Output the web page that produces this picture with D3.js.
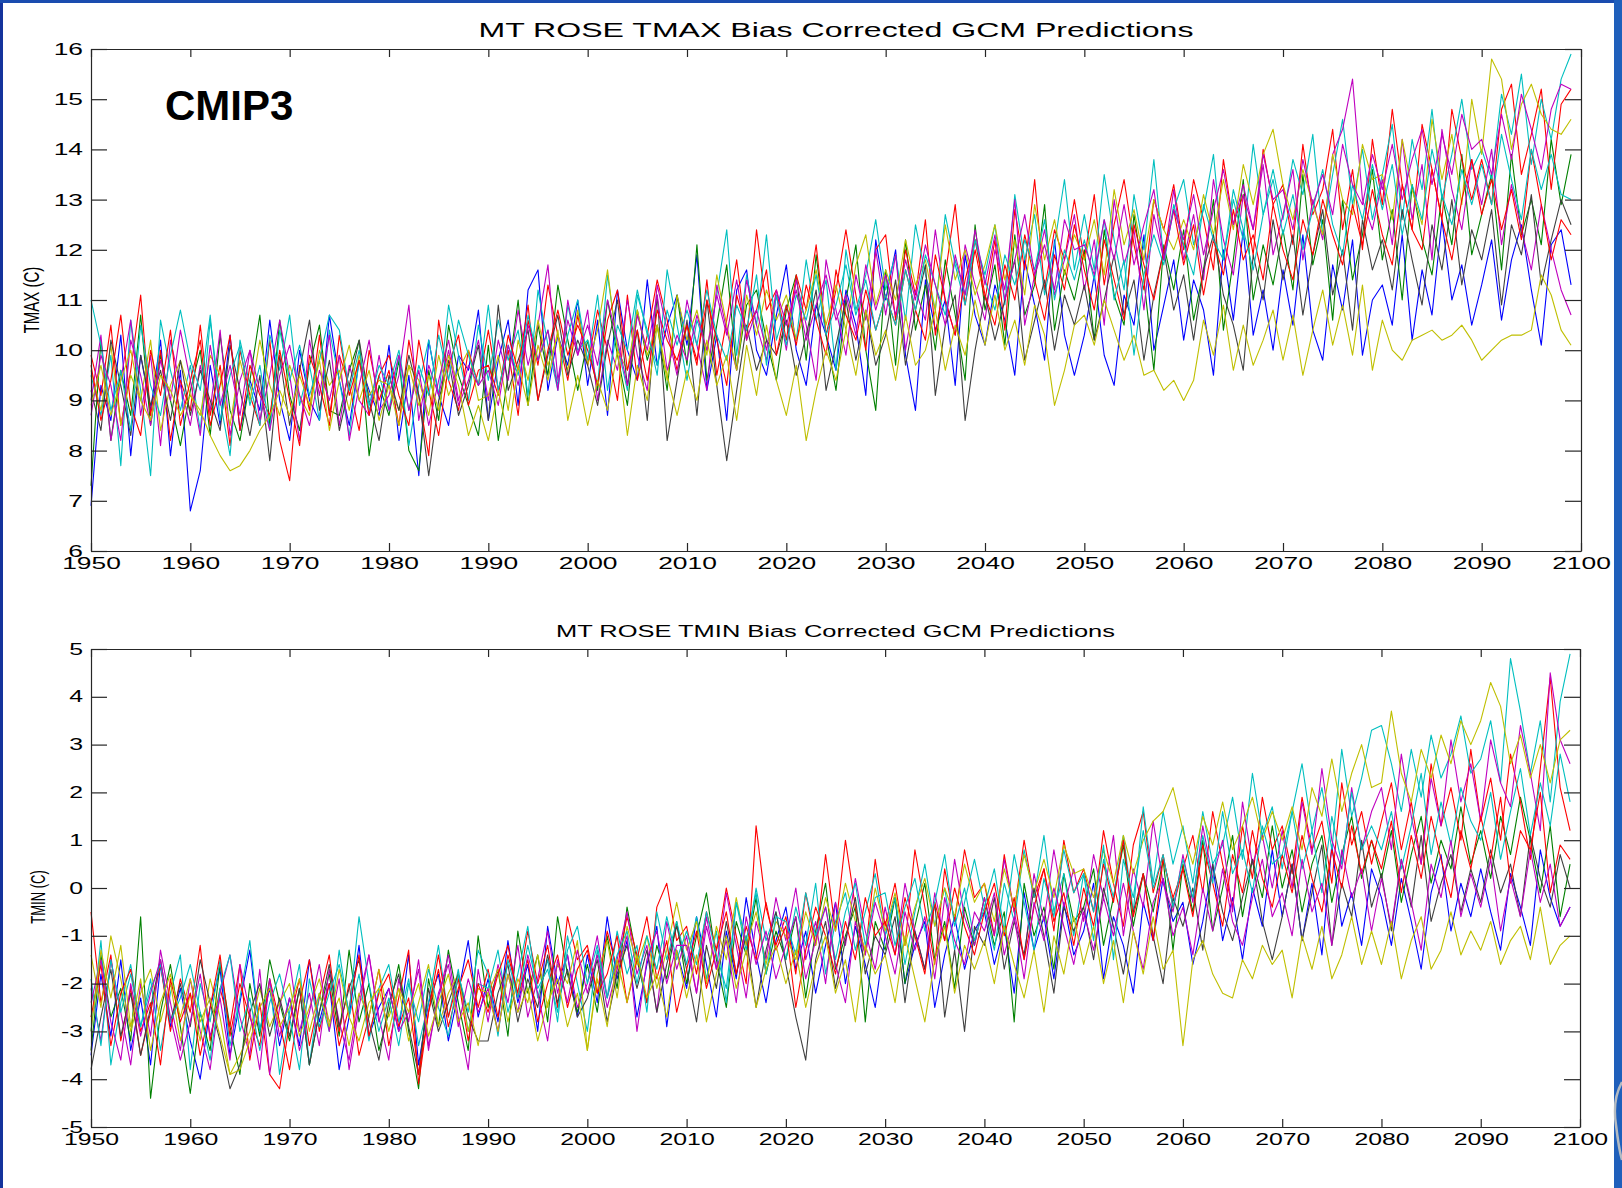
<!DOCTYPE html>
<html><head><meta charset="utf-8">
<script src="https://cdn.jsdelivr.net/npm/d3@7"></script>
<style>
body{margin:0;background:#fff;overflow:hidden;}
svg{display:block;}
text{font-family:"Liberation Sans",Arial,Helvetica,sans-serif;}
</style>
</head><body>
<svg id="chart" width="1622" height="1188"></svg>
<script>
// ---------------- DATA ----------------
const years = d3.range(1950, 2100);
const xTicks = [1950,1960,1970,1980,1990,2000,2010,2020,2030,2040,2050,2060,2070,2080,2090,2100];
const tmaxTicks = [6,7,8,9,10,11,12,13,14,15,16];
const tminTicks = [-5,-4,-3,-2,-1,0,1,2,3,4,5];
const seriesColors = ["#0000ff","#008000","#ff0000","#00bfbf","#bf00bf","#bfbf00","#404040","#ff0000","#00bfbf","#bf00bf","#bfbf00"];

const tmaxBlue = [
6.9,9.3,8.6,10.3,7.9,9.9,8.8,10.2,7.9,9.6,
6.8,7.6,9.7,8.5,10.3,8.4,9.4,8.8,10.6,9.0,
8.2,10.0,9.0,8.6,10.7,9.4,8.5,9.8,9.2,8.7,
10.1,8.2,9.5,7.5,10.2,9.1,8.5,9.9,9.6,10.8,
8.6,9.8,10.6,8.9,11.2,11.6,9.2,10.3,9.7,11.0,
9.3,10.6,8.7,11.2,10.0,9.4,11.4,9.7,10.5,11.1,
10.1,11.9,9.2,10.3,8.6,11.2,11.6,10.0,9.5,10.7,
11.7,10.0,9.3,10.9,10.3,9.6,11.2,10.5,9.1,12.2,
11.0,12.0,9.9,8.8,11.4,10.4,11.0,9.3,11.9,10.7,
10.1,11.3,10.6,9.5,11.8,10.9,9.8,12.2,10.3,9.5,
10.3,11.5,9.9,9.3,11.1,10.5,12.3,10.0,10.9,11.8,
10.2,11.4,10.8,9.5,12.0,10.6,12.4,10.3,11.2,10.0,
11.6,10.5,12.3,10.4,9.8,11.7,10.8,12.2,9.9,11.0,
11.3,10.5,12.3,10.2,11.6,10.7,12.6,11.0,11.7,10.5,
11.3,12.2,10.6,11.8,12.5,11.2,10.1,12.1,12.4,11.3];
const tmaxGreen = [
7.3,10.2,8.2,9.6,8.7,10.7,8.5,9.9,9.0,8.1,
9.2,10.0,8.3,10.3,8.8,8.2,9.4,10.7,8.5,10.6,
9.1,8.4,9.7,10.5,8.8,8.7,9.6,10.2,7.9,9.3,
8.7,9.8,8.0,7.6,9.6,8.6,10.5,9.5,8.9,8.3,
10.1,8.2,9.5,11.0,8.9,10.5,9.5,11.3,10.2,9.2,
10.2,9.2,11.0,9.9,8.9,10.8,9.8,10.5,9.2,11.1,
9.7,12.1,9.4,10.5,11.7,9.6,10.9,11.2,10.2,9.4,
10.8,11.5,9.8,11.9,10.3,9.2,11.0,12.1,10.0,8.8,
11.6,9.7,12.2,10.4,11.3,10.0,11.8,10.7,9.4,12.5,
10.8,11.7,10.1,12.3,10.7,11.3,12.9,10.4,11.6,11.0,
12.0,10.2,12.4,11.1,10.5,12.7,11.4,9.6,12.1,11.2,
12.4,10.6,11.6,13.0,10.4,11.8,13.4,11.0,12.1,11.3,
12.4,11.2,13.5,11.7,12.6,10.6,13.0,11.4,12.3,13.6,
11.8,12.8,11.0,13.3,12.2,11.5,13.1,12.1,13.9,11.9,
12.7,13.5,11.6,13.9,12.3,13.0,12.1,14.2,12.9,13.9];
const tmaxRed = [
9.9,9.1,10.5,8.5,9.6,11.1,8.7,10.0,8.2,9.4,
8.8,10.5,8.7,9.7,8.1,10.0,9.1,8.5,10.2,8.2,
7.4,9.7,8.8,10.3,8.7,9.9,9.3,8.4,10.0,9.0,
9.6,8.5,10.2,9.1,7.9,10.6,9.4,8.8,10.0,9.3,
10.4,9.2,10.0,8.7,10.6,9.7,11.3,10.3,9.4,10.7,
9.7,10.8,10.0,9.0,11.1,9.4,10.3,11.4,10.6,9.6,
10.5,9.7,11.4,9.5,10.6,11.8,10.2,12.4,10.8,11.2,
10.2,11.5,10.8,12.1,10.3,11.2,12.4,11.1,10.0,12.0,
12.3,10.6,12.0,11.1,12.6,10.3,11.5,12.9,10.9,12.0,
11.0,12.2,10.4,12.8,11.6,13.4,11.2,12.4,11.8,13.0,
11.8,13.1,11.3,12.5,13.4,12.1,11.2,13.0,12.4,13.3,
12.0,13.4,12.6,11.6,13.8,12.5,13.1,11.9,14.0,12.9,
13.3,12.1,14.1,12.7,13.2,14.4,12.4,13.6,12.0,14.2,
12.9,14.8,13.3,12.4,14.5,13.6,12.6,14.8,13.8,13.0,
13.8,12.9,14.8,15.3,13.5,14.3,15.2,13.2,14.9,15.2];
const tmaxCyan = [
9.5,8.7,9.9,7.7,10.6,9.2,7.5,10.6,9.6,8.8,
9.7,8.4,10.6,9.0,7.9,10.2,9.3,8.5,10.3,9.6,
10.7,8.9,9.7,8.6,10.4,9.4,8.3,9.8,8.8,9.5,
8.8,9.9,8.1,9.3,10.2,9.1,10.9,9.9,9.0,10.5,
9.4,10.6,9.8,10.4,9.1,11.2,10.1,9.2,10.9,10.0,
10.2,9.3,11.5,10.1,9.2,11.1,10.4,9.5,11.6,10.5,
9.4,10.6,10.0,11.1,12.4,9.9,11.5,10.5,12.3,10.2,
10.9,10.2,11.8,10.6,11.4,9.6,12.0,10.8,11.5,12.6,
11.2,11.9,10.6,12.5,11.5,10.8,12.7,11.7,10.9,12.2,
11.5,12.5,10.9,13.1,11.8,12.7,11.1,12.1,13.4,11.6,
12.7,11.6,13.5,12.2,11.2,13.1,12.0,13.8,11.8,12.8,
13.4,12.1,12.8,13.9,11.8,13.0,12.2,14.1,12.7,13.6,
12.6,13.8,13.1,14.3,12.3,13.5,14.6,12.9,14.0,12.6,
13.5,14.5,12.6,14.2,13.2,14.8,13.0,13.9,15.0,13.6,
14.0,13.4,15.1,14.3,15.5,13.7,15.0,14.2,15.4,15.9];
const tmaxMagenta = [
9.0,10.3,8.2,9.4,10.6,8.7,9.9,8.1,10.2,9.3,
8.5,9.7,8.8,10.4,8.3,9.4,10.0,8.6,9.5,10.6,
9.5,8.2,10.2,9.1,10.3,8.5,9.7,9.0,8.7,9.9,
8.8,9.5,10.9,8.6,9.7,9.1,10.0,8.9,9.4,10.2,
9.0,10.2,9.4,10.8,9.7,10.5,11.7,9.4,10.6,9.9,
10.8,9.0,10.2,9.6,11.0,9.9,9.2,11.3,10.4,9.5,
11.0,10.1,9.2,11.3,10.4,9.6,11.4,10.5,9.8,11.1,
10.0,11.4,10.5,9.4,11.8,10.8,9.9,11.5,10.6,12.0,
10.7,11.9,10.0,11.2,10.6,12.4,11.0,10.3,12.1,11.3,
10.6,12.0,11.2,13.0,10.5,11.5,12.4,11.1,11.8,12.7,
11.2,12.2,10.5,13.0,11.7,12.4,10.8,12.7,11.8,13.2,
11.8,12.7,11.4,13.4,12.2,11.5,13.1,12.4,13.7,11.9,
12.7,13.6,11.8,13.0,12.2,13.9,14.4,15.4,13.0,12.4,
13.4,12.1,14.2,12.6,13.7,11.8,14.4,13.2,12.4,13.8,
12.9,14.0,12.1,13.3,12.4,11.6,12.9,12.0,11.2,10.7];
const tmaxYellow = [
9.6,8.8,10.1,8.5,9.5,9.0,10.2,8.4,9.3,9.8,
9.1,8.7,9.9,9.5,8.5,9.8,9.0,10.2,9.3,8.7,
9.7,9.1,8.7,10.0,9.3,9.6,8.8,9.9,9.1,9.4,
9.3,8.8,9.7,9.4,8.7,9.9,9.1,9.6,10.0,9.0,
9.1,9.9,8.8,10.2,9.4,10.6,9.7,10.3,9.6,10.8,
9.7,10.4,11.6,10.0,9.6,10.8,9.9,10.5,9.4,11.1,
10.2,10.8,9.9,11.5,10.5,9.6,11.1,10.3,11.2,10.6,
11.1,10.2,10.8,11.6,10.5,11.3,10.4,11.7,12.3,10.9,
11.6,11.0,12.2,11.3,11.8,10.8,12.5,11.4,12.0,11.1,
11.7,12.5,11.4,12.2,11.1,12.9,11.8,12.6,11.5,12.3,
11.8,12.6,11.5,13.2,12.1,12.8,11.8,13.0,12.4,12.0,
12.6,12.0,13.1,12.3,13.4,12.4,13.7,12.9,13.9,14.4,
13.3,12.6,13.6,12.9,12.3,13.9,13.0,12.7,14.1,13.4,
13.5,12.6,14.2,13.2,12.5,14.6,13.4,14.3,12.9,15.0,
13.9,15.8,15.4,14.0,14.9,15.3,14.7,14.4,14.3,14.6];
const tmaxGray = [
9.2,8.4,10.2,9.3,8.3,9.9,8.9,9.6,8.6,9.8,
8.7,9.6,9.0,8.4,10.1,9.2,8.3,9.5,7.8,9.9,
8.5,9.6,10.6,8.8,9.8,8.4,9.3,10.2,9.0,8.2,
9.5,8.8,9.9,9.1,7.5,9.0,9.8,8.7,9.3,10.1,
8.6,10.9,9.2,9.8,10.4,9.0,9.9,10.7,9.5,10.2,
9.7,8.9,10.1,11.0,9.3,10.4,8.6,11.1,8.2,9.4,
10.6,8.7,11.0,9.3,7.8,9.2,10.5,9.6,10.2,9.9,
10.6,9.5,10.3,11.2,9.2,10.1,11.0,9.8,10.8,9.7,
10.3,11.4,9.7,10.8,11.7,9.1,10.5,11.1,8.6,10.0,
11.1,10.2,11.0,11.8,9.8,10.6,11.4,10.0,11.1,10.5,
11.3,10.2,11.0,11.9,10.7,11.4,9.8,11.1,12.0,10.8,
11.5,10.2,11.6,12.3,11.1,10.5,9.6,11.9,11.0,12.6,
11.4,12.3,10.7,11.9,12.8,11.1,12.0,10.4,12.6,11.6,
12.2,11.2,12.8,11.8,10.9,12.5,11.6,13.0,11.3,12.4,
11.8,12.8,10.9,12.5,11.9,13.1,11.3,12.2,13.0,12.5];
const tmaxRed2 = [
9.7,8.6,9.4,10.7,8.9,8.3,10.0,9.1,10.4,8.5,
9.4,10.2,8.5,9.3,10.3,8.4,9.7,9.1,8.7,10.0,
9.0,8.1,9.9,9.3,8.5,10.3,9.1,9.8,8.7,9.5,
9.9,9.1,8.5,10.2,9.2,8.3,9.7,10.3,8.9,9.6,
9.7,9.1,10.3,9.6,10.9,9.0,10.0,10.8,9.9,10.5,
10.0,9.3,10.6,11.2,9.6,10.4,9.4,10.8,10.2,9.8,
10.5,9.8,11.0,10.2,9.3,11.1,10.4,10.8,11.6,9.9,
10.9,10.1,11.3,10.6,9.9,11.6,10.7,10.2,11.2,10.4,
11.1,10.5,11.6,10.8,10.2,11.9,11.0,10.3,11.4,12.2,
11.1,10.5,11.7,11.0,12.3,11.4,10.6,11.9,11.2,12.5,
11.6,10.8,12.2,11.4,10.6,12.5,11.7,11.0,12.0,12.8,
11.7,12.5,11.1,12.2,11.5,12.8,11.8,12.3,11.4,12.9,
12.0,11.4,12.6,11.9,13.0,12.3,11.7,12.9,12.1,13.2,
12.3,11.7,13.3,12.4,12.0,13.6,12.6,11.8,13.0,13.8,
12.7,13.4,12.4,13.2,12.2,14.0,12.9,11.8,12.6,12.3];
const tmaxCyan2 = [
11.0,10.1,8.8,9.6,8.4,10.5,9.3,8.7,9.9,10.8,
9.8,9.2,10.7,8.6,9.5,10.1,8.9,9.7,8.4,10.4,
9.4,10.1,9.1,9.8,10.7,10.4,9.2,10.0,8.9,9.7,
9.3,10.0,8.8,9.7,9.1,10.3,9.4,10.6,9.9,9.3,
10.9,9.2,10.1,9.5,10.7,9.8,10.4,9.3,10.3,11.0,
9.8,11.1,9.2,10.5,10.0,11.2,10.3,9.7,10.8,10.1,
10.8,10.1,11.2,10.3,9.8,10.9,10.4,11.5,9.7,11.1,
10.1,11.1,10.6,11.5,10.3,10.9,11.7,10.7,11.4,10.4,
11.1,10.5,11.6,10.8,11.9,11.3,10.7,11.8,11.1,12.2,
11.4,10.8,11.9,11.3,12.2,11.6,12.6,11.0,12.0,11.4,
12.2,11.4,12.6,11.0,11.8,9.9,11.5,12.3,11.7,12.9,
12.1,11.5,12.9,12.2,11.8,13.2,12.4,11.6,12.7,13.4,
12.3,13.1,12.0,12.8,13.6,12.5,11.9,13.3,12.6,13.7,
12.8,13.7,12.3,13.3,12.6,14.0,13.1,12.5,13.6,12.9,
13.7,12.9,14.3,13.4,12.6,14.0,13.2,13.9,13.1,13.0];
const tmaxMagenta2 = [
8.7,9.9,9.3,8.2,10.2,9.5,8.5,9.8,9.0,10.4,
9.4,8.3,10.1,8.9,9.7,8.7,10.0,9.2,8.4,9.5,
10.1,9.1,8.5,9.6,9.0,9.9,8.2,9.3,10.2,8.8,
9.1,9.9,8.8,9.6,8.5,9.4,10.2,9.0,9.7,9.3,
9.6,8.9,10.1,9.3,10.5,9.8,10.4,9.2,11.0,9.9,
10.5,9.7,11.0,10.2,9.3,10.7,10.0,11.1,9.6,10.3,
9.8,10.7,10.0,11.1,10.3,11.4,10.2,10.8,10.0,11.2,
10.5,11.2,10.2,10.9,11.5,10.6,11.1,10.3,11.7,10.8,
11.5,10.7,11.8,11.0,12.1,11.3,10.5,11.9,11.1,12.4,
11.3,12.3,11.0,11.8,12.7,11.5,12.1,11.2,12.6,12.0,
12.1,11.5,12.6,11.8,12.9,11.7,12.5,13.2,11.8,12.8,
12.2,13.1,11.9,12.8,13.6,12.5,13.3,12.4,13.9,13.0,
13.2,12.4,13.8,12.9,13.5,12.7,14.1,13.3,12.9,13.9,
13.2,14.1,13.0,13.8,14.4,13.3,14.3,13.5,14.7,14.0,
14.2,13.5,14.7,13.8,15.1,14.4,13.6,14.8,15.3,15.2];
const tmaxYellow2 = [
8.9,9.7,8.7,9.4,10.0,9.0,8.6,9.5,9.2,8.7,
9.1,8.8,8.3,7.9,7.6,7.7,8.0,8.4,8.7,9.2,
8.7,9.5,8.9,9.8,8.4,9.4,10.1,9.0,9.6,8.6,
9.3,8.5,9.7,8.9,9.5,8.8,9.9,9.3,8.3,8.9,
8.2,9.2,8.3,9.7,8.9,10.1,9.4,10.4,8.6,9.5,
8.5,9.4,8.8,10.0,8.3,9.7,9.0,10.5,9.5,8.7,
9.6,9.0,10.2,9.3,9.9,8.6,10.1,9.1,10.5,9.4,
8.7,9.7,8.2,9.2,10.0,9.4,10.4,9.5,10.8,9.9,
10.4,9.4,10.7,9.7,10.0,10.8,9.6,10.5,9.9,11.0,
10.1,11.1,10.0,10.6,9.7,10.9,10.3,8.9,9.6,10.5,
10.7,10.1,11.0,10.4,9.8,10.3,9.5,9.6,9.2,9.4,
9.0,9.4,10.6,9.9,10.9,9.6,10.5,9.7,10.2,10.8,
9.8,10.7,9.5,10.4,11.2,10.1,10.9,9.9,11.3,9.6,
10.6,10.0,9.8,10.2,10.3,10.4,10.2,10.3,10.5,10.2,
9.8,10.0,10.2,10.3,10.3,10.4,11.5,11.1,10.4,10.1];

const tminBlue = [
-3.5,-1.8,-3.1,-1.5,-3.4,-2.3,-3.7,-1.6,-2.9,-2.1,
-3.2,-4.0,-2.5,-1.7,-3.5,-2.4,-1.3,-3.0,-2.1,-3.3,
-2.3,-3.3,-1.5,-2.8,-2.0,-3.8,-2.7,-1.2,-3.1,-2.5,
-2.1,-3.0,-1.4,-3.7,-2.4,-1.8,-3.2,-2.2,-1.1,-2.7,
-1.9,-2.8,-1.1,-2.4,-1.6,-3.0,-0.8,-2.0,-1.4,-2.7,
-1.4,-2.4,-0.6,-1.9,-1.1,-2.7,-1.6,-0.8,-2.9,-1.3,
-2.1,-0.6,-1.6,-2.7,-0.9,-1.9,-0.2,-1.4,-2.4,-1.1,
-0.4,-1.7,-0.9,-2.2,-1.2,-0.3,-2.0,-0.8,-1.6,-2.5,
-1.0,-0.2,-2.0,-1.2,-0.7,-2.5,-1.4,-0.6,-1.7,-0.9,
-0.5,-1.6,-0.8,-2.2,-0.1,-1.3,-0.6,-1.9,-0.3,-1.4,
-0.9,0.1,-1.9,-0.6,-1.2,-2.2,-0.3,-1.1,0.2,-0.7,
-0.3,-1.6,-0.7,0.5,-1.1,-0.2,-1.5,0.0,-0.8,0.8,
-0.6,0.5,-1.1,0.1,-1.4,0.9,-0.8,-0.1,-1.2,0.4,
-0.2,-1.2,0.2,-0.7,-1.7,-0.1,0.7,-0.9,0.1,-0.6,
0.4,-0.5,-1.3,0.3,-0.4,-1.2,0.8,-0.2,-0.8,-0.4];
const tminGreen = [
-3.4,-1.4,-2.7,-2.1,-3.2,-0.6,-4.4,-2.6,-1.6,-2.9,
-4.3,-2.6,-3.4,-1.6,-2.9,-3.9,-2.0,-3.1,-1.5,-2.4,
-3.2,-2.1,-3.7,-2.6,-1.8,-3.1,-1.3,-2.8,-2.0,-3.4,
-2.6,-1.6,-3.0,-4.2,-1.9,-2.9,-1.3,-2.4,-3.4,-1.0,
-2.5,-1.7,-3.1,-0.9,-2.2,-1.4,-2.8,-0.6,-1.8,-2.6,
-1.6,-2.6,-1.0,-2.1,-0.4,-1.5,-2.4,-1.2,-1.9,-0.7,
-2.0,-1.0,-0.1,-1.5,-2.5,-0.7,-1.4,-0.2,-1.8,-0.9,
-1.5,-0.6,-2.3,-0.9,0.1,-1.7,-1.0,-0.4,-2.8,-0.7,
-1.3,-0.2,-2.0,-0.8,0.1,-1.5,-0.7,-2.1,-0.4,-1.2,
-0.2,-1.2,-0.5,-2.8,0.1,-1.0,-0.4,-1.7,0.3,-0.7,
-0.4,0.4,-1.2,-0.2,0.9,-0.8,0.3,-0.5,0.6,-1.3,
0.5,-0.5,1.0,-0.9,0.0,1.1,-0.6,0.6,-0.2,1.3,
0.0,0.8,-0.5,0.5,1.1,-0.3,0.7,1.5,0.2,1.0,
0.2,1.2,-0.3,0.7,1.5,0.1,1.0,0.4,1.7,0.5,
1.2,0.2,1.5,0.7,1.9,1.0,-0.1,1.3,-0.6,0.5];
const tminRed = [
-0.5,-2.4,-1.4,-3.2,-2.1,-3.5,-2.6,-1.6,-3.0,-1.9,
-2.6,-1.2,-3.2,-2.1,-2.9,-1.6,-3.6,-2.4,-3.9,-4.2,
-2.8,-1.9,-3.3,-2.3,-1.4,-3.0,-2.0,-3.5,-2.7,-1.7,
-3.3,-2.3,-1.3,-4.1,-2.6,-1.7,-2.9,-2.1,-1.5,-2.5,
-1.7,-2.7,-1.4,-2.2,-0.9,-2.0,-1.2,-2.5,-0.6,-1.5,
-1.2,-2.2,-0.9,-1.7,-0.6,-1.4,-2.4,-0.4,0.1,-1.1,
-0.8,-1.8,-0.5,-1.3,0.0,-1.0,-2.0,1.3,-0.4,-1.2,
-0.6,-1.8,-0.1,-1.2,0.7,-0.9,1.0,-0.4,-1.4,0.6,
-0.8,0.1,-1.2,0.8,-0.4,-1.6,0.4,-0.7,0.8,-0.2,
0.1,-1.0,0.7,-0.5,1.0,-0.2,0.4,-0.9,1.0,-0.1,
0.4,-0.5,1.2,0.1,-0.8,0.9,1.6,-0.1,0.7,-0.4,
0.4,1.1,-0.1,1.6,0.5,-0.4,1.3,0.2,1.9,0.8,
1.3,0.3,1.9,0.8,1.4,0.1,2.2,0.9,1.6,0.5,
1.4,2.2,0.8,1.8,0.5,2.6,1.3,2.1,1.0,2.9,
1.4,2.3,1.0,2.8,1.8,0.6,2.5,4.4,2.1,1.2];
const tminCyan = [
-3.0,-1.1,-3.7,-2.4,-1.6,-2.9,-1.9,-3.4,-2.2,-1.4,
-3.8,-2.0,-2.8,-1.5,-3.3,-2.3,-1.1,-3.0,-1.9,-3.9,
-2.6,-1.6,-3.7,-2.2,-3.0,-1.3,-2.7,-1.8,-3.2,-2.1,
-1.6,-2.8,-1.9,-3.3,-2.4,-1.2,-2.7,-1.7,-3.0,-2.0,
-2.1,-1.3,-2.6,-1.8,-0.8,-2.3,-1.5,-2.8,-1.0,-2.0,
-3.0,-1.3,-2.3,-0.9,-1.8,-1.2,-2.6,-0.5,-1.5,-0.7,
-1.6,-0.6,-1.9,-0.9,-2.4,-0.3,-1.3,0.0,-1.1,-0.5,
-1.5,-0.4,-1.2,0.1,-1.8,-0.7,-0.1,-1.3,-0.5,0.3,
-1.0,-0.2,-1.6,-0.5,0.5,-0.8,0.0,-1.3,-0.3,0.6,
-0.4,-1.3,0.1,-0.7,0.8,-0.2,1.1,-0.5,0.3,-1.0,
0.3,-1.1,0.6,-0.2,1.1,-0.5,1.7,0.1,1.6,0.5,
1.3,0.1,1.6,0.5,0.9,1.9,0.6,2.4,1.1,1.7,
0.4,1.6,2.6,1.2,2.1,0.8,2.9,1.5,2.3,3.3,
3.4,2.6,1.6,2.9,1.9,3.2,2.3,2.8,3.6,2.4,
2.7,3.5,2.2,4.8,3.7,2.4,3.5,1.8,3.9,4.9];
const tminMagenta = [
-2.1,-3.2,-1.5,-2.6,-3.7,-2.0,-3.1,-1.3,-2.4,-3.4,
-1.9,-3.0,-3.8,-2.2,-1.4,-2.7,-3.5,-1.7,-3.9,-2.5,
-1.5,-3.0,-2.2,-3.3,-1.7,-2.8,-3.6,-2.3,-1.4,-2.7,
-3.6,-1.9,-2.8,-1.5,-3.3,-2.3,-1.4,-2.7,-3.8,-1.7,
-2.8,-1.6,-2.4,-1.2,-2.7,-1.9,-0.9,-2.2,-1.4,-2.5,
-2.0,-1.0,-2.3,-1.5,-0.5,-1.8,-1.2,-2.6,-0.7,-1.7,
-1.0,-2.2,-0.6,-1.7,-0.1,-1.2,-2.3,-0.7,-1.5,-0.2,
-1.1,0.0,-1.5,-0.7,-2.0,-0.3,-1.2,0.2,-0.9,-1.7,
-0.4,-1.4,0.1,-0.9,-1.7,-0.1,-1.1,0.6,-0.6,-1.2,
-0.2,-1.0,0.6,-0.5,-1.5,0.3,-0.7,0.8,-0.4,0.4,
-0.7,0.7,-0.2,1.1,-1.0,0.4,-0.4,1.4,0.1,-0.5,
0.7,-0.3,1.3,0.2,1.0,-0.5,1.8,0.5,1.1,0.0,
1.2,0.0,1.8,0.7,2.5,1.0,0.4,2.1,0.8,1.6,
2.1,0.8,2.8,1.5,0.5,2.3,1.3,3.1,1.8,2.6,
1.4,3.1,2.2,1.7,3.4,2.4,1.2,4.5,3.1,2.6];
const tminYellow = [
-1.4,-2.5,-1.0,-1.9,-3.0,-2.2,-1.7,-2.8,-2.0,-3.2,
-2.2,-3.2,-1.9,-2.7,-3.9,-3.5,-3.0,-2.1,-2.9,-2.4,
-2.0,-3.1,-2.5,-1.9,-2.8,-2.3,-3.3,-2.2,-2.7,-1.7,
-2.7,-2.1,-3.2,-2.4,-1.6,-2.9,-2.2,-1.8,-3.0,-2.1,
-2.2,-1.7,-2.8,-1.9,-2.4,-1.4,-2.5,-1.6,-2.0,-1.1,
-3.4,-1.8,-1.1,-2.3,-0.8,-1.6,-1.0,-2.1,-1.3,-0.3,
-1.3,-0.7,-2.0,-0.8,-1.5,-0.2,-1.2,-0.5,-1.6,-0.7,
-1.0,-1.5,-0.5,-1.2,-0.2,-0.9,0.1,-0.7,-1.3,0.0,
-0.9,-0.1,-1.2,-0.4,0.2,-0.8,0.0,-0.6,0.5,-0.3,
0.1,-0.7,0.4,-0.4,0.7,-0.1,0.6,-0.2,0.9,0.3,
0.4,-0.2,0.8,0.1,1.1,0.3,1.0,1.4,1.6,2.1,
1.2,0.5,1.5,0.9,1.8,0.8,1.3,1.9,1.0,1.6,
1.0,1.7,0.8,2.1,1.5,2.7,1.6,2.4,3.0,2.1,
2.2,3.7,2.4,1.8,2.9,2.3,3.2,2.6,3.5,3.0,
3.5,4.3,3.8,2.6,3.2,2.3,3.0,2.2,3.1,3.3];
const tminGray = [
-3.8,-2.7,-1.7,-3.1,-2.2,-3.5,-2.5,-1.5,-2.8,-2.0,
-2.9,-1.5,-2.4,-3.2,-4.2,-3.7,-2.6,-2.0,-3.1,-2.3,
-3.1,-2.1,-3.7,-2.6,-1.6,-2.9,-2.1,-1.5,-2.8,-3.6,
-2.4,-1.8,-2.9,-3.9,-2.1,-3.0,-2.4,-1.8,-2.7,-3.2,
-3.2,-2.2,-1.6,-2.8,-1.9,-2.5,-1.4,-2.4,-1.7,-2.7,
-2.3,-1.5,-2.8,-1.8,-1.2,-2.1,-1.3,-2.6,-1.6,-0.8,
-1.7,-2.8,-1.2,-2.1,-0.7,-1.8,-1.0,-2.5,-1.3,-0.5,
-1.6,-2.7,-3.6,-1.5,-0.7,-2.1,-1.1,-0.2,-1.8,-1.0,
-1.4,-0.6,-2.4,-0.9,-1.7,-0.3,-2.7,-1.3,-3.0,-0.8,
-1.2,-0.2,-1.7,-0.7,-1.4,0.0,-1.0,-2.2,-0.4,-0.9,
-0.4,-1.5,0.0,-0.8,-1.8,-0.5,0.3,-1.0,-2.0,-0.2,
-0.8,0.0,-1.3,0.5,-0.5,-1.1,-0.2,0.6,-0.7,-1.5,
-0.6,0.5,-1.1,-0.1,0.9,-1.2,0.1,-0.6,1.0,-0.4,
0.3,-0.9,0.6,-0.4,1.1,-0.7,0.1,0.7,-0.5,0.4,
-0.3,0.8,-0.1,0.5,-0.6,1.1,0.2,-0.4,0.7,0.0];
const tminRed2 = [
-2.7,-1.6,-3.3,-2.2,-1.7,-3.0,-2.4,-3.7,-1.9,-2.8,
-2.2,-3.5,-2.5,-1.4,-3.1,-2.0,-2.7,-3.3,-1.9,-2.8,
-3.8,-2.4,-1.5,-3.0,-2.0,-3.3,-2.5,-1.4,-3.1,-2.2,
-1.8,-2.9,-2.3,-3.9,-2.6,-1.4,-2.7,-1.9,-3.2,-2.0,
-2.6,-1.8,-1.2,-2.3,-1.5,-2.8,-2.0,-1.4,-2.5,-1.7,
-1.3,-2.2,-1.8,-1.0,-2.4,-1.5,-0.6,-1.9,-1.1,-2.6,
-1.7,-0.9,-2.1,-1.3,-0.5,-1.8,-0.8,-1.5,-0.3,-1.3,
-0.8,-2.5,-1.3,-0.4,-1.0,-1.8,-0.7,-1.5,-0.2,-1.0,
-0.7,-1.4,-0.2,-1.0,-1.8,-0.3,-1.1,0.0,-0.8,-1.4,
-0.5,0.1,-1.0,-0.2,-1.5,-0.4,0.4,-0.7,-0.1,-1.2,
0.0,-0.8,0.5,-0.3,1.0,-0.6,0.3,-1.1,0.6,-0.2,
0.4,-0.6,0.9,0.1,-0.8,0.7,-0.1,1.2,0.2,-0.4,
0.7,-0.1,1.1,0.2,-0.5,0.8,0.0,1.3,0.3,1.0,
0.4,1.4,-0.1,1.1,0.2,1.5,0.6,-0.2,1.2,0.4,
1.5,0.6,1.9,0.1,1.2,0.8,2.0,-0.1,0.9,0.6];
const tminCyan2 = [
-1.9,-3.3,-1.5,-2.6,-1.8,-2.9,-2.1,-1.6,-2.8,-2.3,
-1.6,-2.6,-3.6,-2.1,-1.4,-3.0,-2.3,-3.4,-2.4,-1.8,
-2.7,-3.8,-1.9,-2.9,-2.2,-1.6,-2.6,-0.6,-2.0,-3.0,
-2.3,-3.3,-2.0,-2.8,-1.7,-2.5,-3.1,-1.8,-2.6,-1.3,
-1.8,-3.1,-1.5,-2.3,-1.2,-2.1,-1.7,-2.6,-1.3,-0.8,
-2.0,-1.2,-2.3,-1.4,-0.9,-2.0,-1.0,-1.7,-0.6,-1.5,
-0.9,-1.6,-0.5,-1.4,-2.1,-0.3,-1.1,-0.1,-1.8,-0.6,
-0.7,-1.4,-0.1,-1.0,-0.4,-1.5,-0.5,0.1,-1.2,-0.2,
-0.1,-1.2,-0.4,0.2,-0.9,-0.3,0.7,-0.8,0.0,-1.1,
-0.4,0.4,-0.9,0.7,-0.3,-1.3,0.2,-0.6,0.8,-0.1,
0.3,-0.5,0.9,-1.5,0.6,-0.2,1.2,0.0,0.7,-0.4,
0.6,-0.2,1.1,0.1,1.6,0.3,0.8,-0.1,1.3,0.5,
0.7,1.6,0.4,1.2,-0.1,1.5,0.5,2.0,0.8,1.3,
0.8,1.6,0.4,1.3,2.4,0.7,1.8,0.9,2.1,1.4,
1.0,2.0,0.6,1.6,2.5,1.1,2.2,1.3,2.8,1.8];
const tminMagenta2 = [
-2.4,-1.5,-2.8,-3.6,-2.0,-3.1,-2.2,-1.5,-2.7,-3.6,
-2.8,-1.8,-3.1,-2.3,-3.6,-1.6,-2.6,-3.8,-1.9,-3.1,
-2.3,-3.4,-2.6,-1.6,-3.0,-1.9,-3.8,-2.5,-1.4,-2.8,
-2.1,-3.0,-2.6,-1.7,-3.4,-2.2,-1.6,-2.9,-1.9,-2.6,
-2.1,-3.0,-1.8,-2.6,-1.4,-2.2,-3.2,-1.5,-2.4,-1.3,
-2.2,-1.4,-2.5,-1.7,-1.0,-3.0,-1.5,-0.9,-2.0,-1.2,
-1.2,-2.2,-0.8,-1.7,-1.1,-2.4,-0.6,-1.6,-0.9,-1.9,
-1.2,-0.6,-1.9,-1.1,-0.4,-1.6,-2.4,-0.7,-1.4,-0.3,
-1.0,-1.8,-0.5,-1.3,-0.6,-1.9,-0.2,-1.1,-1.6,-0.5,
-0.9,-0.1,-1.4,-0.6,-1.9,-0.3,-1.1,0.0,-0.8,-1.6,
-0.5,-1.3,-0.2,-1.0,0.1,-0.9,-1.7,-0.3,0.2,-1.0,
-0.4,-1.4,0.0,-0.9,0.4,-0.7,-1.2,-0.2,0.6,-0.6,
-0.1,-1.0,0.6,-0.5,0.1,-1.2,0.8,-0.2,0.4,-0.9,
0.2,-0.8,0.6,-0.3,-1.3,0.5,-0.2,1.0,-0.6,0.3,
-0.4,0.6,-0.9,0.2,-0.6,0.8,-0.3,0.5,-0.8,-0.4];
const tminYellow2 = [
-3.0,-1.3,-2.3,-1.2,-2.9,-1.9,-3.4,-2.4,-1.8,-2.7,
-1.9,-2.8,-2.3,-3.1,-3.9,-3.8,-3.2,-2.5,-2.1,-2.9,
-2.5,-1.9,-3.0,-2.2,-2.9,-1.7,-2.7,-3.2,-2.4,-2.1,
-3.0,-2.1,-2.6,-2.0,-3.1,-2.4,-1.8,-2.8,-2.4,-3.3,
-2.2,-3.0,-1.8,-2.6,-2.1,-3.2,-2.4,-1.9,-2.9,-2.2,
-3.4,-1.9,-2.9,-1.5,-2.4,-1.4,-2.3,-1.8,-2.7,-1.3,
-2.3,-1.4,-2.8,-1.8,-1.0,-2.1,-1.3,-2.5,-1.7,-1.2,
-2.0,-1.3,-2.5,-1.6,-1.0,-2.2,-1.5,-2.8,-1.2,-1.8,
-1.4,-2.4,-1.0,-1.9,-2.8,-1.5,-0.8,-2.2,-1.2,-1.7,
-1.1,-2.0,-0.8,-1.6,-2.3,-1.3,-2.6,-1.0,-1.8,-0.6,
-1.6,-0.8,-2.0,-1.1,-2.4,-0.9,-1.8,-0.6,-1.7,-1.3,
-3.3,-1.5,-1.1,-1.8,-2.2,-2.3,-1.5,-1.9,-1.2,-1.6,
-1.3,-2.3,-1.0,-1.7,-0.8,-1.9,-1.4,-0.6,-1.6,-0.9,
-1.6,-0.7,-1.9,-1.1,-0.6,-1.7,-1.3,-0.5,-1.4,-0.9,
-1.3,-0.7,-1.6,-1.1,-0.8,-1.5,-0.4,-1.6,-1.2,-1.0];

const tmaxSeries = [tmaxBlue,tmaxGreen,tmaxRed,tmaxCyan,tmaxMagenta,tmaxYellow,tmaxGray,tmaxRed2,tmaxCyan2,tmaxMagenta2,tmaxYellow2];
const tminSeries = [tminBlue,tminGreen,tminRed,tminCyan,tminMagenta,tminYellow,tminGray,tminRed2,tminCyan2,tminMagenta2,tminYellow2];

// ---------------- DRAW ----------------
const svg = d3.select("#chart");
svg.append("rect").attr("x",0).attr("y",0).attr("width",1622).attr("height",1188).attr("fill","#fff");

function stretch(sel, k){
  sel.each(function(){
    const w = this.getComputedTextLength();
    d3.select(this).attr("textLength", w*k).attr("lengthAdjust","spacingAndGlyphs");
  });
}

function panel(cfg){
  const g = svg.append("g");
  const x = d3.scaleLinear().domain([1950,2100]).range([cfg.left,cfg.right]);
  const y = d3.scaleLinear().domain(cfg.domain).range([cfg.bottom,cfg.top]);
  const line = d3.line().x((d,i)=>x(years[i])).y(d=>y(d));
  cfg.series.forEach((s,i)=>{
    g.append("path").attr("d",line(s)).attr("fill","none")
     .attr("stroke",seriesColors[i]).attr("stroke-width",1.1).attr("stroke-linejoin","round");
  });
  const fmt = d=>String(d);
  const axB = g.append("g").attr("transform",`translate(0,${cfg.bottom})`)
    .call(d3.axisBottom(x).tickValues(xTicks).tickFormat(fmt).tickSizeInner(-cfg.xt).tickSizeOuter(0).tickPadding(cfg.xpad));
  const axT = g.append("g").attr("transform",`translate(0,${cfg.top})`)
    .call(d3.axisTop(x).tickValues(xTicks).tickFormat(()=>"").tickSizeInner(-cfg.xt).tickSizeOuter(0));
  const axL = g.append("g").attr("transform",`translate(${cfg.left},0)`)
    .call(d3.axisLeft(y).tickValues(cfg.yTicks).tickFormat(fmt).tickSizeInner(-16).tickSizeOuter(0).tickPadding(8));
  const axR = g.append("g").attr("transform",`translate(${cfg.right},0)`)
    .call(d3.axisRight(y).tickValues(cfg.yTicks).tickFormat(()=>"").tickSizeInner(-16).tickSizeOuter(0));
  [axB,axT,axL,axR].forEach(a=>{
    a.attr("font-family",null).attr("font-size",null);
    a.selectAll("path,line").attr("stroke","#262626").attr("stroke-width",1.2);
    a.selectAll("text").attr("fill","#000").style("font-size",cfg.fs+"px");
  });
  stretch(axB.selectAll("text"),1.55);
  stretch(axL.selectAll("text"),1.55);
  g.append("text").attr("x",(cfg.left+cfg.right)/2).attr("y",cfg.titleY)
    .attr("text-anchor","middle").style("font-size",cfg.titleFs+"px").attr("fill","#000")
    .attr("textLength",cfg.titleLen).attr("lengthAdjust","spacingAndGlyphs").text(cfg.title);
  g.append("text").attr("transform",`translate(${cfg.ylabX},${cfg.ylabY}) rotate(-90) scale(1,1.5)`)
    .attr("text-anchor","middle").attr("dy","0.36em").style("font-size",cfg.ylabFs+"px").attr("fill","#000")
    .text(cfg.ylab);
}

panel({left:91,right:1581,top:49,bottom:551,domain:[6,16],yTicks:tmaxTicks,series:tmaxSeries,
  xt:8,xpad:6,fs:17,title:"MT ROSE TMAX Bias Corrected GCM Predictions",titleY:37,titleFs:19.5,titleLen:715,
  ylab:"TMAX (C)",ylabX:31,ylabY:300,ylabFs:15});
panel({left:91,right:1580,top:649,bottom:1127,domain:[-5,5],yTicks:tminTicks,series:tminSeries,
  xt:8,xpad:7,fs:16,title:"MT ROSE TMIN Bias Corrected GCM Predictions",titleY:637,titleFs:16,titleLen:559,
  ylab:"TMIN (C)",ylabX:38,ylabY:897,ylabFs:13});

svg.append("text").attr("x",165).attr("y",120).style("font-size","42px").style("font-weight","bold")
  .attr("fill","#000").text("CMIP3");

svg.append("rect").attr("x",0).attr("y",0).attr("width",3).attr("height",1188).attr("fill","#14339c");
svg.append("rect").attr("x",0).attr("y",0).attr("width",1622).attr("height",3).attr("fill","#1a4caf");
svg.append("rect").attr("x",1614).attr("y",0).attr("width",8).attr("height",1188).attr("fill","#1f5fbb");
svg.append("path").attr("d","M1622,1082 Q1612,1100 1616,1125 Q1619,1150 1622,1160")
  .attr("fill","none").attr("stroke","#d9d2c4").attr("stroke-width",2.5).attr("opacity",0.8);
</script>
</body></html>
